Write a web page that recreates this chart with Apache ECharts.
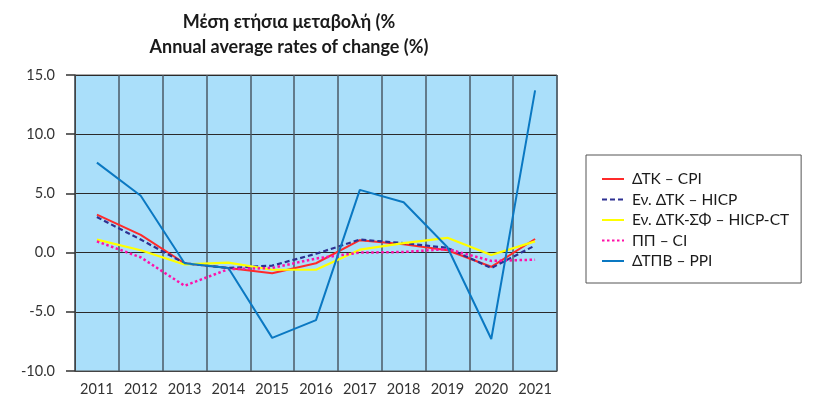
<!DOCTYPE html>
<html>
<head>
<meta charset="utf-8">
<script src="https://cdn.jsdelivr.net/npm/echarts@6/dist/echarts.min.js"></script>
<style>
  html, body { margin: 0; padding: 0; background: #ffffff; }
  #chart { width: 813px; height: 404px; }
</style>
</head>
<body>
<div id="chart"></div>
<script>
// Years on the category axis
var years = ['2011', '2012', '2013', '2014', '2015', '2016', '2017', '2018', '2019', '2020', '2021'];

// Annual average rates of change (%)
var cpi    = [3.2, 1.5, -0.9, -1.3, -1.75, -0.9, 1.05, 0.7, 0.2, -1.2, 1.15];
var hicp   = [3.0, 1.1, -0.9, -1.3, -1.1, -0.1, 1.1, 0.8, 0.4, -1.3, 0.6];
var hicpCt = [1.1, 0.2, -1.0, -0.85, -1.45, -1.45, 0.25, 0.8, 1.25, -0.2, 0.95];
var ci     = [0.95, -0.4, -2.8, -1.4, -1.3, -0.5, 0.0, 0.05, 0.3, -0.7, -0.6];
var ppi    = [7.6, 4.8, -0.9, -1.3, -7.2, -5.7, 5.3, 4.25, 0.45, -7.3, 13.7];

// Value axis ticks
var yMin = -10, yMax = 15, yStep = 5;

var FONT = 'Lato, "Open Sans", sans-serif';

var chart = echarts.init(document.getElementById('chart'), null, { renderer: 'canvas' });

function lineSeries(name, data, color, type, width) {
  return {
    name: name,
    type: 'line',
    data: data,
    symbol: 'none',
    showSymbol: false,
    smooth: false,
    lineStyle: { color: color, width: width, type: type },
    itemStyle: { color: color },
    z: 3
  };
}

chart.setOption({
  animation: false,
  backgroundColor: '#ffffff',
  title: {
    text: 'Μέση ετήσια μεταβολή (%\nAnnual average rates of change (%)',
    left: 284,
    top: 5,
    textAlign: 'center',
    textStyle: {
      fontFamily: FONT,
      fontSize: 18,
      fontWeight: 'bold',
      color: '#1a1a1a',
      lineHeight: 25
    }
  },
  grid: {
    left: 75,
    right: 256,
    top: 75,
    bottom: 33,
    show: true,
    backgroundColor: '#aadffa',
    borderColor: '#555555',
    borderWidth: 1
  },
  legend: {
    orient: 'vertical',
    left: 586,
    top: 155,
    width: 216,
    padding: [16, 12, 14, 15],
    itemWidth: 22,
    itemHeight: 14,
    itemGap: 4.5,
    borderColor: '#555555',
    borderWidth: 1,
    backgroundColor: '#ffffff',
    itemStyle: { opacity: 0 },
    textStyle: {
      fontFamily: FONT,
      fontSize: 15.5,
      color: '#1a1a1a',
      padding: [0, 0, 0, 3]
    },
    data: ['ΔΤΚ – CPI', 'Εν. ΔΤΚ – HICP', 'Εν. ΔΤΚ-ΣΦ – HICP-CT', 'ΠΠ – CI', 'ΔΤΠΒ – PPI']
  },
  xAxis: {
    type: 'category',
    data: years,
    boundaryGap: true,
    axisLine: { show: true, onZero: false, lineStyle: { color: '#444444', width: 1 } },
    axisTick: { show: false, interval: 0 },
    splitLine: { show: true, interval: 0, lineStyle: { color: '#4a5a66', width: 1.5 } },
    axisLabel: {
      interval: 0,
      hideOverlap: false,
      fontFamily: FONT,
      fontSize: 14.5,
      color: '#333333',
      margin: 11
    }
  },
  yAxis: {
    type: 'value',
    min: yMin,
    max: yMax,
    interval: yStep,
    axisLine: { show: true, lineStyle: { color: '#444444', width: 1 } },
    axisTick: { show: true, inside: false, length: 9, lineStyle: { color: '#333333', width: 1.5 } },
    splitLine: { show: true, lineStyle: { color: '#2a2a2a', width: 1 } },
    axisLabel: {
      fontFamily: FONT,
      fontSize: 14.5,
      color: '#333333',
      margin: 20,
      formatter: function (v) { return v.toFixed(1); }
    }
  },
  series: [
    lineSeries('ΔΤΚ – CPI', cpi, '#ff2a2a', 'solid', 2),
    lineSeries('Εν. ΔΤΚ – HICP', hicp, '#2e3192', [5, 3], 2.2),
    lineSeries('Εν. ΔΤΚ-ΣΦ – HICP-CT', hicpCt, '#ffff00', 'solid', 2.2),
    lineSeries('ΠΠ – CI', ci, '#ff10a8', [2.5, 2.5], 2.5),
    lineSeries('ΔΤΠΒ – PPI', ppi, '#0a78c2', 'solid', 2)
  ]
});
</script>
</body>
</html>
